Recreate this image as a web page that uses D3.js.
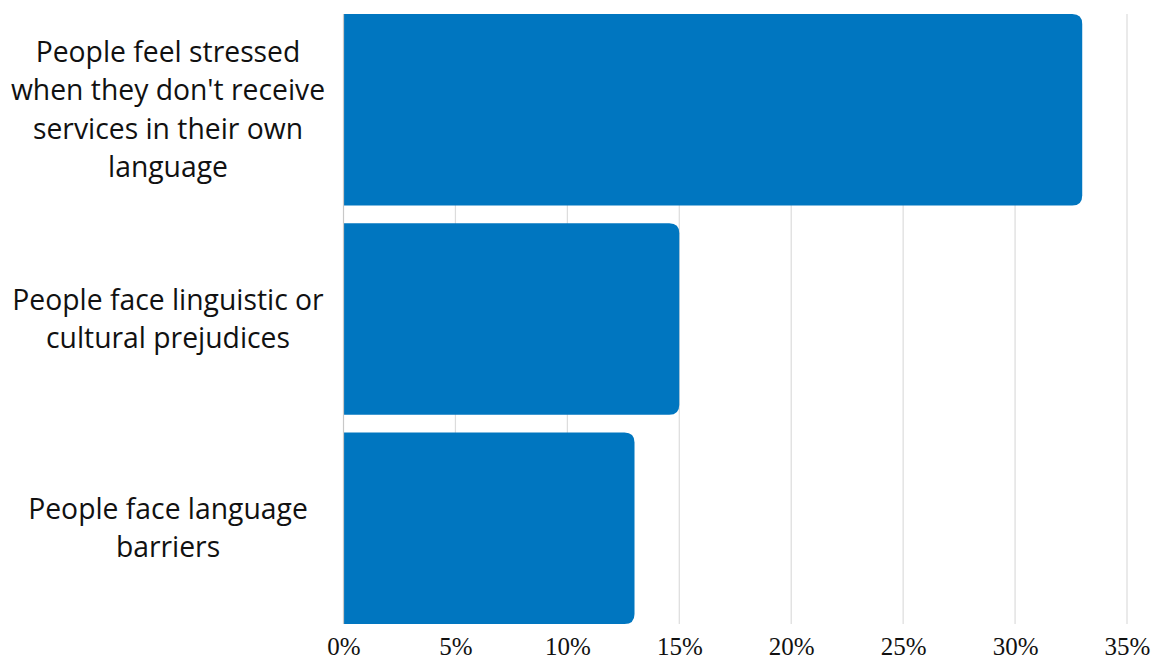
<!DOCTYPE html>
<html lang="en">
<head>
    <meta charset="UTF-8">
    <title>Language services</title>
    <script src="https://cdn.jsdelivr.net/npm/d3@7"></script>
    <style>
        body { margin: 0; background: #fff; }
    </style>
</head>
<body>
    <svg id="mainsvg" width="1163" height="658"></svg>
    <script>
        const categories = [
            "People feel stressed when they don't receive services in their own language",
            "People face linguistic or cultural prejudices",
            "People face language barriers"
        ];
        // how the category labels break onto lines
        const labelLines = [
            ["People feel stressed", "when they don't receive", "services in their own", "language"],
            ["People face linguistic or", "cultural prejudices"],
            ["People face language", "barriers"]
        ];
        const values = [33, 15, 13];
        const ticks = [0, 5, 10, 15, 20, 25, 30, 35];

        const svg = d3.select("#mainsvg");
        const margin = {top: 14, right: 36, bottom: 34, left: 343.5};
        const width = +svg.attr("width");
        const height = +svg.attr("height");
        const innerWidth = width - margin.left - margin.right;
        const innerHeight = height - margin.top - margin.bottom;

        const xScale = d3.scaleLinear().domain([0, 35]).range([0, innerWidth]);
        const yScale = d3.scaleBand().domain(categories).range([0, innerHeight])
            .paddingInner(0.085).paddingOuter(0);

        const g = svg.append("g").attr("transform", `translate(${margin.left},${margin.top})`);

        // vertical grid lines
        g.selectAll(".grid").data(ticks.slice(1)).join("line")
            .attr("class", "grid")
            .attr("x1", d => xScale(d)).attr("x2", d => xScale(d))
            .attr("y1", 0).attr("y2", innerHeight)
            .attr("stroke", "#dcdcdc").attr("stroke-width", 1.2);

        // bars, rounded on the right end only
        const r = 10;
        g.selectAll(".bar").data(values).join("path")
            .attr("class", "bar")
            .attr("fill", "#0076c0")
            .attr("d", (d, i) => {
                const y0 = yScale(categories[i]);
                const h = yScale.bandwidth();
                const w = xScale(d);
                return `M0,${y0}H${w - r}Q${w},${y0} ${w},${y0 + r}V${y0 + h - r}Q${w},${y0 + h} ${w - r},${y0 + h}H0Z`;
            });

        // left axis line
        g.append("line")
            .attr("x1", 0).attr("x2", 0).attr("y1", 0).attr("y2", innerHeight)
            .attr("stroke", "#c8c8c8").attr("stroke-width", 1.2);

        // x axis tick labels
        const xAxis = d3.axisBottom(xScale).tickValues(ticks).tickFormat(d => d + "%").tickSize(0).tickPadding(13);
        const xg = g.append("g").attr("transform", `translate(0,${innerHeight})`).call(xAxis);
        xg.select(".domain").remove();
        xg.selectAll("text")
            .attr("font-family", "'Liberation Serif', 'DejaVu Serif', serif")
            .attr("font-size", "25px")
            .attr("fill", "#111");

        // category labels
        const lineH = 38.5;
        categories.forEach((c, i) => {
            const lines = labelLines[i];
            const cy = margin.top + yScale(c) + yScale.bandwidth() / 2;
            // keep the first line clear of the top edge
            const firstY = Math.max(cy - (lines.length - 1) / 2 * lineH, 38);
            const t = svg.append("text")
                .attr("x", 168)
                .attr("text-anchor", "middle")
                .attr("font-family", "'Open Sans', sans-serif")
                .attr("font-size", "28.3px")
                .attr("fill", "#111");
            lines.forEach((ln, j) => {
                t.append("tspan")
                    .attr("x", 168)
                    .attr("y", firstY + j * lineH)
                    .attr("dy", "0.35em")
                    .text(ln);
            });
        });
    </script>
</body>
</html>
